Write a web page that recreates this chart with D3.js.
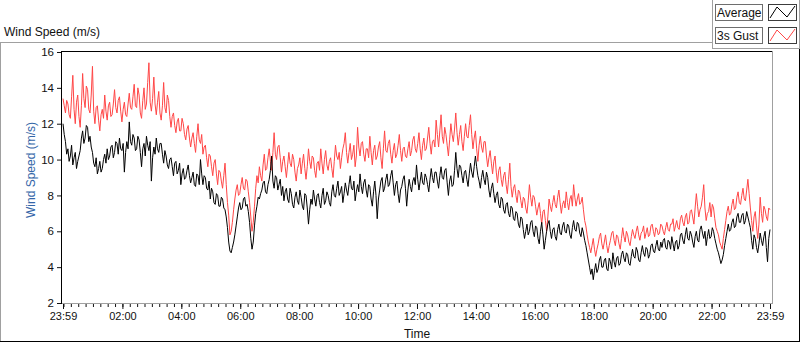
<!DOCTYPE html>
<html>
<head>
<meta charset="utf-8">
<script src="https://cdn.jsdelivr.net/npm/d3@7"></script>
<style>
  body { margin: 0; background: #fff; }
  svg { display: block; font-family: "Liberation Sans", Arial, sans-serif; }
</style>
</head>
<body>
<div id="chart"></div>
<script>
// Series names and time settings
const seriesNames = ['Average', '3s Gust'];
const startTime = new Date(2020, 0, 1, 23, 59);
const endTime = new Date(2020, 0, 2, 23, 59);
const sampleSeconds = 150; // one reading every 2.5 minutes

// Tick labels
const xTickLabels = ['23:59', '02:00', '04:00', '06:00', '08:00', '10:00', '12:00',
  '14:00', '16:00', '18:00', '20:00', '22:00', '23:59'];
const yTicks = [2, 4, 6, 8, 10, 12, 14, 16];

// Wind speed (m/s)
const avgSpeed = [
  12.0, 11.4, 11.0, 10.3, 10.6, 9.9, 10.2, 10.8, 9.7, 10.1, 10.4, 9.5, 9.9, 10.2, 10.5, 11.2,
  11.6, 10.9, 11.2, 11.9, 11.8, 11.0, 11.3, 10.7, 10.4, 9.8, 9.6, 10.1, 9.2, 9.5, 9.9, 9.3,
  9.5, 10.0, 10.3, 9.8, 10.6, 10.0, 10.2, 10.7, 10.8, 10.1, 10.4, 11.0, 10.9, 10.3, 11.2, 10.6,
  10.5, 10.9, 9.3, 10.4, 11.0, 10.6, 12.1, 11.0, 10.8, 11.4, 11.2, 10.5, 10.6, 11.3, 11.1, 10.4,
  9.6, 10.6, 10.9, 10.2, 11.3, 10.8, 10.5, 11.0, 8.8, 10.1, 10.7, 10.3, 11.2, 10.6, 10.4, 10.9,
  10.9, 10.3, 9.8, 10.5, 10.2, 9.7, 9.5, 10.0, 10.1, 9.6, 9.1, 9.8, 9.9, 9.2, 9.4, 9.8,
  8.6, 9.2, 9.5, 8.9, 9.0, 9.4, 9.7, 9.1, 8.7, 9.0, 9.3, 8.6, 8.5, 9.2, 9.1, 8.6,
  10.0, 9.2, 8.6, 9.1, 9.0, 8.4, 8.3, 8.8, 7.8, 8.4, 8.2, 7.6, 7.5, 8.1, 8.0, 7.4,
  7.4, 7.9, 7.8, 7.3, 7.2, 6.8, 6.2, 5.4, 4.9, 4.8, 5.1, 5.4, 5.8, 6.3, 6.8, 7.3,
  7.6, 7.2, 7.3, 7.8, 7.9, 7.4, 7.5, 7.1, 6.5, 5.6, 5.0, 5.4, 6.3, 7.0, 7.4, 7.9,
  7.8, 8.1, 8.3, 8.7, 8.8, 8.2, 8.1, 8.6, 8.9, 9.4, 10.2, 8.8, 8.4, 9.1, 9.0, 8.3,
  8.6, 8.9, 8.0, 8.5, 7.7, 8.2, 8.4, 7.8, 7.6, 8.4, 8.1, 7.5, 7.3, 7.9, 8.2, 7.7,
  7.5, 8.3, 7.9, 7.4, 7.2, 8.1, 8.0, 7.3, 6.4, 7.2, 7.8, 7.5, 8.3, 7.8, 7.4, 8.0,
  8.1, 7.6, 7.3, 8.0, 8.4, 7.5, 7.7, 8.2, 8.0, 7.6, 7.4, 8.2, 8.6, 8.0, 7.9, 8.4,
  8.8, 8.0, 8.2, 8.5, 7.6, 8.1, 8.7, 8.3, 8.0, 8.6, 9.1, 8.4, 8.3, 8.8, 7.7, 8.2,
  8.6, 8.2, 9.2, 8.5, 8.1, 8.7, 8.9, 8.3, 7.9, 8.6, 8.5, 7.8, 7.4, 8.2, 8.8, 8.0,
  6.7, 7.8, 8.3, 8.8, 9.0, 8.2, 8.4, 8.9, 9.2, 8.5, 8.6, 9.1, 9.4, 8.7, 8.0, 8.6,
  8.8, 8.1, 7.6, 8.3, 8.5, 8.9, 9.1, 8.4, 7.4, 8.3, 8.9, 8.5, 8.2, 8.8, 9.0, 8.6,
  9.7, 8.9, 8.3, 8.8, 9.3, 8.7, 8.6, 9.2, 9.0, 8.6, 8.2, 8.9, 9.5, 9.0, 8.7, 9.3,
  9.3, 8.8, 8.4, 9.1, 9.6, 9.0, 8.9, 9.4, 9.5, 8.7, 8.0, 8.8, 9.1, 8.5, 8.6, 9.4,
  10.4, 9.5, 9.0, 9.7, 9.6, 9.1, 8.7, 9.3, 9.4, 8.9, 8.5, 9.2, 9.8, 9.3, 9.0, 9.6,
  10.2, 9.6, 9.1, 8.8, 8.4, 9.0, 9.4, 8.9, 8.6, 9.3, 9.0, 8.3, 7.9, 8.4, 8.7, 8.1,
  7.6, 8.0, 8.2, 7.5, 7.3, 7.9, 7.8, 7.2, 7.0, 7.5, 7.6, 7.0, 6.8, 7.4, 7.3, 6.7,
  6.6, 7.1, 7.0, 6.4, 6.2, 6.8, 6.7, 6.1, 5.6, 6.0, 6.4, 5.8, 6.0, 6.5, 6.6, 6.0,
  5.7, 6.3, 6.2, 5.6, 5.3, 6.0, 6.5, 5.8, 5.0, 5.5, 6.0, 6.4, 6.6, 6.0, 5.6, 6.1,
  6.2, 5.7, 5.5, 6.1, 6.4, 5.9, 5.8, 6.3, 6.5, 6.0, 5.9, 6.4, 6.3, 5.8, 5.6, 6.2,
  6.6, 6.1, 6.0, 6.5, 6.4, 5.9, 5.7, 6.2, 5.9, 5.5, 5.2, 4.8, 4.4, 4.0, 3.6, 3.9,
  3.3, 3.8, 4.2, 3.7, 3.9, 4.4, 4.6, 4.0, 4.0, 4.4, 4.5, 3.9, 3.8, 4.5, 4.3, 3.9,
  4.8, 4.3, 4.0, 4.5, 4.6, 4.1, 4.2, 4.7, 4.9, 4.5, 4.3, 4.8, 4.7, 4.2, 4.1, 4.6,
  5.0, 4.6, 4.5, 5.1, 4.9, 4.4, 4.3, 4.8, 5.2, 4.8, 4.6, 5.1, 5.0, 4.5, 4.7, 5.2,
  5.3, 4.9, 4.8, 5.2, 5.5, 5.0, 4.9, 5.4, 5.1, 5.5, 5.6, 5.1, 5.0, 5.5, 5.4, 5.0,
  5.7, 5.3, 4.9, 5.4, 5.5, 5.0, 5.2, 5.8, 5.9, 5.5, 5.3, 5.8, 6.2, 5.6, 5.5, 6.0,
  5.8, 5.4, 5.1, 5.7, 6.0, 5.5, 5.4, 6.1, 6.3, 5.9, 5.6, 6.0, 5.2, 5.7, 6.1, 5.6,
  5.7, 6.2, 6.0, 5.6, 5.3, 5.0, 4.8, 4.5, 4.2, 4.4, 4.7, 5.2, 5.6, 6.0, 6.4, 6.0,
  6.1, 6.5, 6.7, 6.2, 6.3, 6.8, 7.0, 6.5, 6.5, 6.9, 7.0, 6.4, 6.6, 7.1, 6.8, 6.5,
  6.2, 5.5, 5.0, 5.8, 5.6, 5.1, 4.8, 5.3, 5.9, 5.5, 5.2, 5.7, 6.0, 5.1, 4.3, 5.6,
  6.1
];
const gustSpeed = [
  13.4, 13.0, 12.6, 13.3, 13.1, 12.5, 12.3, 13.5, 14.7, 12.8, 12.0, 13.2, 13.6, 12.4, 11.8, 13.0,
  14.8, 13.4, 12.9, 14.1, 13.9, 12.8, 12.6, 13.6, 15.2, 12.7, 12.0, 12.9, 13.0, 12.2, 11.6, 12.5,
  12.8, 12.3, 13.6, 12.7, 12.2, 13.0, 13.2, 12.4, 12.5, 13.1, 13.9, 12.9, 12.6, 13.3, 13.5, 12.7,
  12.1, 12.8, 13.2, 12.5, 12.4, 13.1, 13.7, 12.9, 12.8, 13.5, 14.2, 13.0, 12.9, 14.0, 13.6, 12.6,
  12.3, 13.3, 14.0, 12.8, 13.1, 14.3, 15.4, 13.2, 12.7, 13.4, 14.6, 13.1, 12.5, 13.2, 13.8, 12.6,
  12.2, 13.0, 14.3, 12.9, 12.6, 13.6, 13.3, 12.4, 11.8, 12.4, 12.6, 11.9, 11.5, 12.1, 12.3, 11.6,
  11.6, 12.3, 12.0, 11.4, 11.1, 11.7, 11.9, 11.2, 10.7, 11.2, 11.5, 10.9, 10.4, 11.3, 12.0, 11.1,
  10.9, 11.4, 10.3, 10.7, 10.8, 10.1, 9.6, 10.3, 10.2, 9.6, 9.1, 9.8, 10.0, 9.2, 8.6, 9.4,
  9.3, 8.8, 8.4, 9.1, 9.8, 8.6, 7.6, 6.9, 5.8, 6.0, 6.5, 7.2, 7.8, 8.3, 8.6, 8.0,
  8.1, 8.6, 9.0, 8.4, 8.3, 8.9, 8.8, 8.2, 7.6, 6.8, 6.0, 6.5, 7.4, 8.4, 9.1, 8.7,
  9.6, 9.1, 8.8, 9.7, 10.3, 9.4, 9.5, 10.1, 10.6, 9.9, 9.4, 10.4, 11.5, 10.3, 10.0, 10.7,
  10.8, 10.1, 9.3, 9.9, 10.2, 9.6, 9.0, 9.7, 10.4, 9.8, 9.6, 10.3, 10.0, 9.3, 8.8, 9.5,
  9.7, 10.1, 9.2, 9.8, 10.3, 9.5, 8.9, 9.6, 10.6, 9.9, 9.5, 10.2, 10.1, 9.4, 9.0, 9.8,
  9.9, 9.4, 10.6, 9.8, 9.2, 10.0, 10.5, 9.7, 9.4, 9.9, 10.1, 9.5, 9.0, 9.9, 10.8, 10.2,
  10.0, 10.4, 9.5, 10.1, 10.6, 10.9, 11.5, 10.4, 9.8, 10.4, 10.9, 10.0, 10.3, 10.8, 9.6, 10.2,
  11.8, 10.7, 10.2, 10.9, 11.0, 10.3, 9.9, 10.6, 10.6, 10.1, 11.3, 10.4, 9.7, 10.5, 10.8, 10.0,
  10.2, 10.7, 11.0, 10.1, 9.5, 10.6, 11.6, 10.5, 10.4, 10.9, 11.1, 10.3, 9.8, 10.5, 10.9, 10.1,
  10.3, 10.8, 11.4, 10.5, 9.9, 10.6, 10.7, 10.2, 10.1, 10.6, 11.0, 10.2, 10.5, 11.1, 11.3, 10.6,
  10.4, 10.9, 11.5, 10.6, 10.0, 10.8, 11.2, 10.5, 10.6, 11.2, 11.8, 10.9, 10.3, 11.0, 11.1, 10.7,
  12.2, 11.4, 10.7, 11.6, 12.5, 11.3, 10.9, 11.8, 11.4, 10.8, 10.2, 11.1, 12.0, 11.4, 11.0, 11.7,
  12.6, 11.5, 10.8, 11.4, 11.9, 11.0, 10.5, 11.3, 12.0, 11.3, 11.2, 11.9, 12.5, 11.4, 10.6, 11.2,
  11.6, 10.6, 9.9, 10.8, 11.3, 10.7, 10.4, 11.0, 11.0, 10.2, 9.6, 10.1, 10.5, 9.8, 9.2, 9.9,
  10.2, 9.3, 8.7, 9.4, 9.6, 8.9, 8.5, 9.1, 9.3, 8.6, 8.1, 8.9, 9.8, 8.5, 7.9, 8.4,
  8.6, 8.0, 7.6, 8.3, 8.2, 7.7, 7.3, 7.9, 7.8, 7.3, 7.0, 7.7, 8.6, 7.9, 7.4, 8.0,
  7.9, 7.4, 6.9, 7.3, 7.6, 7.0, 6.4, 7.1, 7.2, 6.6, 6.0, 6.8, 7.8, 7.4, 7.1, 7.6,
  8.0, 7.5, 7.3, 7.9, 8.3, 7.6, 7.0, 7.5, 7.7, 7.3, 8.2, 7.6, 7.2, 7.8, 8.0, 7.4,
  8.6, 7.9, 7.4, 7.8, 8.1, 7.5, 7.6, 7.9, 7.2, 6.6, 6.3, 5.8, 5.4, 5.1, 4.8, 5.2,
  5.6, 5.0, 4.6, 5.0, 5.3, 5.7, 5.9, 5.3, 5.0, 5.4, 5.8, 5.2, 4.8, 5.2, 5.5, 5.9,
  6.0, 5.5, 5.2, 5.8, 5.7, 5.3, 5.0, 5.6, 6.2, 5.7, 5.4, 6.0, 5.8, 5.4, 5.2, 5.7,
  6.1, 5.8, 5.6, 6.0, 6.3, 5.8, 5.5, 5.9, 6.0, 6.3, 5.6, 5.9, 6.2, 5.7, 5.8, 6.3,
  6.4, 6.0, 5.7, 6.2, 6.1, 5.8, 5.9, 6.4, 6.3, 6.0, 5.8, 6.2, 6.5, 6.1, 6.0, 6.4,
  6.4, 6.7, 6.0, 6.3, 6.6, 6.2, 6.1, 6.7, 6.9, 6.5, 6.3, 6.8, 7.0, 6.4, 6.5, 7.1,
  7.2, 6.8, 6.4, 7.3, 8.1, 7.4, 6.8, 7.2, 7.4, 7.9, 8.6, 7.3, 6.6, 7.0, 7.1, 7.6,
  6.8, 7.5, 7.3, 6.7, 6.2, 6.0, 5.8, 5.4, 5.2, 5.0, 5.6, 6.1, 6.6, 7.1, 7.4, 6.9,
  7.0, 7.5, 7.8, 7.2, 7.3, 7.9, 8.2, 7.6, 7.5, 8.0, 8.4, 7.8, 7.7, 8.3, 8.9, 8.1,
  7.3, 6.6, 6.0, 6.8, 7.1, 6.3, 5.6, 6.4, 7.9, 7.0, 6.5, 7.4, 7.2, 6.8, 6.6, 7.3,
  7.2
];
const seriesColors = ['#000000', '#ff4646'];

const width = 800;
const height = 342;
const plot = { left: 62, top: 51, right: 772, bottom: 303 };
const labelFont = '"Liberation Sans", Arial, sans-serif';

const svg = d3.select('#chart')
  .append('svg')
  .attr('width', width)
  .attr('height', height);

// time of a sample
function sampleTime(i) {
  return d3.timeSecond.offset(startTime, i * sampleSeconds);
}

// tick label -> date on the chart's day
function labelTime(label, i) {
  if (i === 0) return startTime;
  if (i === xTickLabels.length - 1) return endTime;
  const parts = label.split(':');
  return new Date(2020, 0, 2, +parts[0], +parts[1]);
}

const x = d3.scaleTime()
  .domain([startTime, endTime])
  .range([plot.left + 1, plot.right - 2]);

const y = d3.scaleLinear()
  .domain([2, 16])
  .range([plot.bottom, plot.top + 1]);

// outer frame (sunken look: gray top/left, black bottom/right)
svg.append('line').attr('x1', 0).attr('y1', 42.5).attr('x2', 712).attr('y2', 42.5).attr('stroke', '#a0a0a0');
svg.append('line').attr('x1', 0.5).attr('y1', 42).attr('x2', 0.5).attr('y2', 342).attr('stroke', '#a0a0a0');
svg.append('line').attr('x1', 0).attr('y1', 341.5).attr('x2', 800).attr('y2', 341.5).attr('stroke', '#000');
svg.append('line').attr('x1', 799.5).attr('y1', 48).attr('x2', 799.5).attr('y2', 342).attr('stroke', '#000');

// chart title
svg.append('text')
  .attr('x', 4)
  .attr('y', 36)
  .attr('font-size', 12)
  .attr('fill', '#111')
  .text('Wind Speed (m/s)');

// clip for the traces
svg.append('clipPath')
  .attr('id', 'plotClip')
  .append('rect')
  .attr('x', plot.left)
  .attr('y', plot.top)
  .attr('width', plot.right - plot.left)
  .attr('height', plot.bottom - plot.top);

const line = d3.line()
  .x((d, i) => x(sampleTime(i)))
  .y(d => y(d));

const traces = svg.append('g').attr('clip-path', 'url(#plotClip)');
[avgSpeed, gustSpeed].forEach(function (values, k) {
  traces.append('path')
    .datum(values)
    .attr('fill', 'none')
    .attr('stroke', seriesColors[k])
    .attr('stroke-width', 1)
    .attr('d', line);
});

// black trace sits on top of the red one
traces.select('path').raise();

// plot border: black top/left, gray bottom/right
svg.append('line').attr('x1', plot.left - 0.5).attr('y1', plot.top + 0.5).attr('x2', plot.right).attr('y2', plot.top + 0.5).attr('stroke', '#000');
svg.append('line').attr('x1', plot.left - 0.5).attr('y1', plot.top).attr('x2', plot.left - 0.5).attr('y2', plot.bottom + 1).attr('stroke', '#000');
svg.append('line').attr('x1', plot.left).attr('y1', plot.bottom + 0.5).attr('x2', plot.right).attr('y2', plot.bottom + 0.5).attr('stroke', '#a0a0a0');
svg.append('line').attr('x1', plot.right + 0.5).attr('y1', plot.top).attr('x2', plot.right + 0.5).attr('y2', plot.bottom + 1).attr('stroke', '#a0a0a0');

// y axis
const yAxis = d3.axisLeft(y)
  .tickValues(yTicks)
  .tickSize(4)
  .tickPadding(3);
const yG = svg.append('g')
  .attr('transform', 'translate(' + (plot.left - 1) + ',0)')
  .call(yAxis);
yG.select('.domain').remove();
yG.selectAll('text').attr('font-size', 11.5).attr('fill', '#111').attr('font-family', labelFont);
yG.selectAll('line').attr('stroke', '#111');

// x axis minor ticks (every 15 min)
const xMinor = d3.axisBottom(x)
  .ticks(d3.timeMinute.every(15))
  .tickSize(3)
  .tickFormat('');
const xMinorG = svg.append('g')
  .attr('transform', 'translate(0,' + (plot.bottom + 1) + ')')
  .call(xMinor);
xMinorG.select('.domain').remove();
xMinorG.selectAll('line').attr('stroke', '#111');

// x axis major ticks with labels
const xTickTimes = xTickLabels.map(labelTime);
const xAxis = d3.axisBottom(x)
  .tickValues(xTickTimes)
  .tickSize(5)
  .tickPadding(3)
  .tickFormat((d, i) => xTickLabels[i]);
const xG = svg.append('g')
  .attr('transform', 'translate(0,' + (plot.bottom + 1) + ')')
  .call(xAxis);
xG.select('.domain').remove();
xG.selectAll('text').attr('font-size', 11).attr('fill', '#111').attr('font-family', labelFont);
xG.selectAll('line').attr('stroke', '#111');

// axis titles
svg.append('text')
  .attr('x', (plot.left + plot.right) / 2)
  .attr('y', 338)
  .attr('text-anchor', 'middle')
  .attr('font-size', 12)
  .attr('fill', '#111')
  .text('Time');

svg.append('text')
  .attr('transform', 'translate(35,170) rotate(-90)')
  .attr('text-anchor', 'middle')
  .attr('font-size', 12)
  .attr('fill', '#3466a8')
  .text('Wind Speed (m/s)');

// legend panel
const legend = svg.append('g');
legend.append('rect')
  .attr('x', 712.5).attr('y', -1)
  .attr('width', 87).attr('height', 49.5)
  .attr('fill', '#fff')
  .attr('stroke', '#a0a0a0');

seriesNames.forEach(function (name, k) {
  const top = 4 + k * 23;
  legend.append('rect')
    .attr('x', 715.5).attr('y', top + 0.5)
    .attr('width', 47).attr('height', 16)
    .attr('fill', '#fff')
    .attr('stroke', '#6e6e6e');
  legend.append('text')
    .attr('x', 717).attr('y', top + 13)
    .attr('font-size', 12)
    .attr('fill', '#111')
    .text(name);
  legend.append('rect')
    .attr('x', 768.5).attr('y', top + 0.5)
    .attr('width', 28).attr('height', 16)
    .attr('fill', '#fff')
    .attr('stroke', '#3c3c3c');
  legend.append('path')
    .attr('d', 'M770,' + (top + 14) + 'L777,' + (top + 3) + 'L787,' + (top + 13) + 'L795,' + (top + 2))
    .attr('fill', 'none')
    .attr('stroke', seriesColors[k]);
});
</script>
</body>
</html>
